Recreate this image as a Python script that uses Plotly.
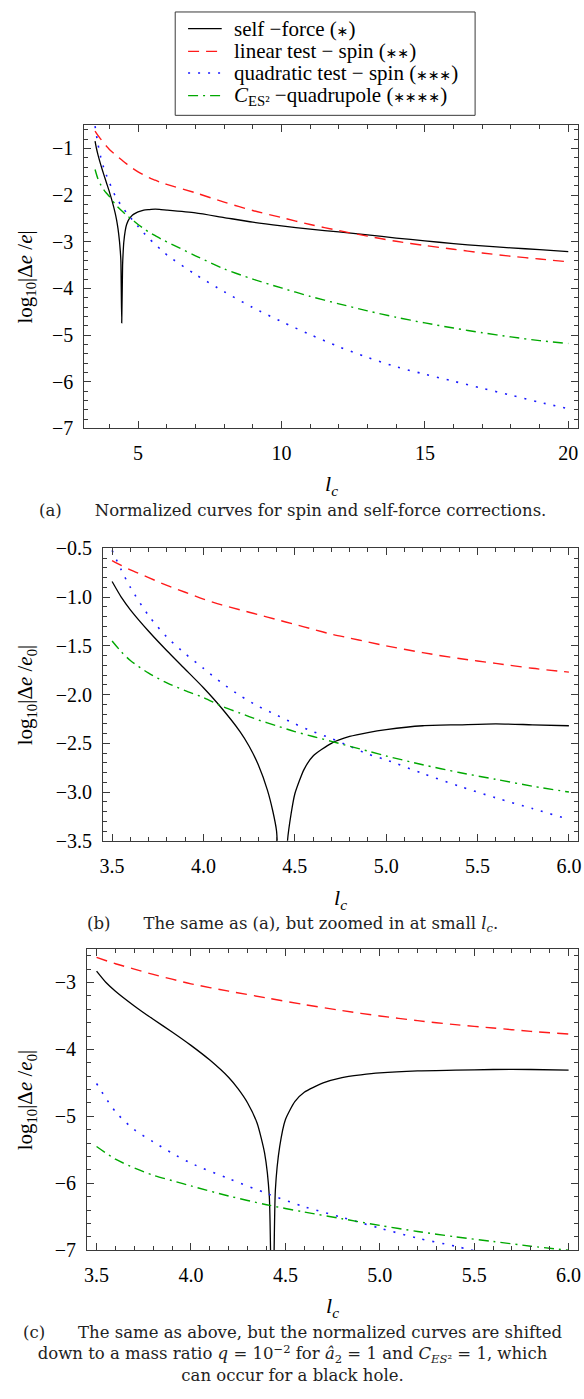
import plotly.graph_objects as go

# ---------------------------------------------------------------
# Curve data: log10 of the relative energy corrections vs l_c
# ---------------------------------------------------------------

# (a) normalized curves, wide range of l_c
x_a_sf = [3.5, 3.55, 3.6, 3.7, 3.8, 3.9, 4.0, 4.1, 4.2, 4.25, 4.3, 4.35, 4.38, 4.4,
          4.43, 4.46, 4.48, 4.5, 4.55, 4.6, 4.7, 4.8, 4.9, 5.0, 5.2, 5.4, 5.6, 5.8,
          6.0, 7, 8, 9, 10, 11, 12, 13, 14, 15, 16, 17, 18, 19, 20]
y_a_sf = [-0.84, -1.00, -1.13, -1.35, -1.55, -1.74, -1.93, -2.14, -2.38, -2.53, -2.72,
          -2.98, -3.20, -3.40, -4.74, -3.50, -3.22, -3.02, -2.77, -2.63, -2.50, -2.43,
          -2.39, -2.36, -2.32, -2.31, -2.30, -2.31, -2.32, -2.38, -2.48, -2.58, -2.66,
          -2.73, -2.79, -2.85, -2.92, -2.98, -3.04, -3.09, -3.13, -3.17, -3.21]

x_a = [3.5, 3.6, 3.7, 3.8, 3.9, 4.0, 4.2, 4.4, 4.6, 4.8, 5.0, 5.2, 5.4, 5.6, 5.8, 6.0,
       7, 8, 9, 10, 11, 12, 13, 14, 15, 16, 17, 18, 19, 20]
y_a_lin = [-0.625, -0.72, -0.80, -0.88, -0.95, -1.02, -1.13, -1.23, -1.33, -1.42, -1.50,
           -1.57, -1.63, -1.68, -1.73, -1.77, -1.95, -2.15, -2.33, -2.48, -2.63, -2.76,
           -2.88, -2.99, -3.08, -3.16, -3.24, -3.31, -3.37, -3.43]
y_a_quad = [-0.52, -0.90, -1.19, -1.41, -1.58, -1.73, -2.01, -2.21, -2.38, -2.53, -2.67,
            -2.81, -2.94, -3.06, -3.17, -3.28, -3.70, -4.07, -4.41, -4.71, -4.99, -5.25,
            -5.48, -5.68, -5.84, -5.99, -6.14, -6.29, -6.44, -6.58]
y_a_ces = [-1.45, -1.65, -1.78, -1.88, -1.96, -2.03, -2.19, -2.32, -2.43, -2.53, -2.63,
           -2.72, -2.80, -2.87, -2.94, -3.00, -3.30, -3.58, -3.80, -3.99, -4.17, -4.33,
           -4.48, -4.62, -4.74, -4.85, -4.95, -5.04, -5.12, -5.18]

# (b) same curves, zoomed in at small l_c
x_b_sf = [3.5, 3.55, 3.6, 3.7, 3.8, 3.9, 4.0, 4.1, 4.2, 4.25, 4.3, 4.35, 4.38, 4.4,
          4.435, 4.46, 4.48, 4.5, 4.55, 4.6, 4.7, 4.8, 4.9, 5.0, 5.2, 5.4, 5.6, 5.8, 6.0]
y_b_sf = [-0.84, -1.00, -1.13, -1.35, -1.55, -1.74, -1.93, -2.14, -2.38, -2.53, -2.72,
          -2.98, -3.20, -3.40, -5.00, -3.50, -3.22, -3.02, -2.77, -2.63, -2.50, -2.43,
          -2.39, -2.36, -2.32, -2.31, -2.30, -2.31, -2.32]

x_b = [3.5, 3.55, 3.6, 3.7, 3.8, 3.9, 4.0, 4.1, 4.2, 4.3, 4.4, 4.5, 4.6, 4.7, 4.8, 4.9,
       5.0, 5.2, 5.4, 5.6, 5.8, 6.0]
y_b_lin = [-0.625, -0.675, -0.72, -0.80, -0.88, -0.95, -1.02, -1.08, -1.13, -1.18, -1.23,
           -1.28, -1.33, -1.38, -1.42, -1.46, -1.50, -1.57, -1.63, -1.68, -1.73, -1.77]
y_b_quad = [-0.52, -0.72, -0.90, -1.19, -1.41, -1.58, -1.73, -1.88, -2.01, -2.12, -2.21,
            -2.30, -2.38, -2.45, -2.53, -2.61, -2.67, -2.81, -2.94, -3.06, -3.17, -3.28]
y_b_ces = [-1.45, -1.56, -1.65, -1.78, -1.88, -1.96, -2.03, -2.12, -2.19, -2.26, -2.32,
           -2.38, -2.43, -2.48, -2.53, -2.58, -2.63, -2.72, -2.80, -2.87, -2.94, -3.00]

# (c) shifted down to mass ratio q = 1e-2
x_c_sf = [3.5, 3.55, 3.6, 3.7, 3.8, 3.9, 4.0, 4.1, 4.2, 4.25, 4.3, 4.35, 4.39, 4.415,
          4.431, 4.447, 4.47, 4.5, 4.55, 4.6, 4.7, 4.8, 4.9, 5.0, 5.2, 5.4, 5.6, 5.8, 6.0]
y_c_sf = [-2.83, -3.00, -3.13, -3.35, -3.55, -3.74, -3.94, -4.16, -4.42, -4.59, -4.80,
          -5.10, -5.55, -6.20, -9.00, -6.10, -5.45, -5.05, -4.78, -4.64, -4.50, -4.42,
          -4.38, -4.35, -4.32, -4.31, -4.30, -4.30, -4.31]

x_c = [3.5, 3.6, 3.7, 3.8, 3.9, 4.0, 4.2, 4.4, 4.6, 4.8, 5.0, 5.2, 5.4, 5.6, 5.8, 6.0]
y_c_lin = [-2.625, -2.72, -2.80, -2.88, -2.95, -3.02, -3.13, -3.23, -3.33, -3.42, -3.50,
           -3.57, -3.63, -3.68, -3.73, -3.77]
y_c_ces = [-5.45, -5.64, -5.77, -5.88, -5.96, -6.04, -6.19, -6.32, -6.43, -6.53, -6.63,
           -6.72, -6.80, -6.87, -6.94, -7.00]
x_c_quad = [3.5, 3.6, 3.7, 3.8, 3.9, 4.0, 4.2, 4.4, 4.6, 4.8, 5.0, 5.2, 5.4, 5.5]
y_c_quad = [-4.51, -4.93, -5.20, -5.38, -5.55, -5.70, -5.93, -6.15, -6.35, -6.51, -6.67,
            -6.82, -6.94, -7.01]

AST = "<span style='font-family:DejaVu Sans;font-size:14px'>\u2217</span>"
series_names = ["self \u2212force (" + AST + ")",
                "linear test \u2212 spin (" + AST * 2 + ")",
                "quadratic test \u2212 spin (" + AST * 3 + ")",
                "<i>C</i><sub>ES\u00b2</sub> \u2212quadrupole (" + AST * 4 + ")"]

# ---------------------------------------------------------------
# Styling
# ---------------------------------------------------------------
W, H = 584, 1399
SERIF = "Liberation Serif"
CAPTION_FONT = "DejaVu Serif"
FRAME = "#3a3a3a"
TICK_FONT = dict(family=SERIF, size=20, color="black")

styles = [
    dict(color="black", width=1.3, dash="solid"),
    dict(color="#ff1a1a", width=1.4, dash="11px,7px"),
    dict(color="#1a1aff", width=1.6, dash="2px,8px"),
    dict(color="#00a800", width=1.4, dash="10px,5px,2px,5px"),
]


def px_x(p):
    return p / W


def px_y(p):
    return 1 - p / H


# plot-area rectangles in pixels: (left, right, top, bottom)
panels = {
    "a": (82, 581, 116, 424),
    "b": (101, 581, 546, 843),
    "c": (85, 581, 953, 1259),
}

fig = go.Figure()

panel_data = [
    ("x", "y", [(x_a_sf, y_a_sf), (x_a, y_a_lin), (x_a, y_a_quad), (x_a, y_a_ces)]),
    ("x2", "y2", [(x_b_sf, y_b_sf), (x_b, y_b_lin), (x_b, y_b_quad), (x_b, y_b_ces)]),
    ("x3", "y3", [(x_c_sf, y_c_sf), (x_c, y_c_lin), (x_c_quad, y_c_quad), (x_c, y_c_ces)]),
]

for xa, ya, curves in panel_data:
    for i, (xs, ys) in enumerate(curves):
        fig.add_trace(go.Scatter(
            x=xs, y=ys, mode="lines", name=series_names[i], showlegend=False,
            line=dict(color=styles[i]["color"], width=styles[i]["width"],
                      dash=styles[i]["dash"], shape="spline",
                      smoothing=0.6 if i == 0 else 0.8),
            xaxis=xa, yaxis=ya, hoverinfo="skip"))


def axis(rect, horizontal, rng, dtick, minor_dtick, anchor, fmt=None):
    left, right, top, bottom = rect
    dom = [px_x(left), px_x(right)] if horizontal else [px_y(bottom), px_y(top)]
    d = dict(
        domain=dom, range=rng, anchor=anchor,
        showline=True, linecolor=FRAME, linewidth=1, mirror="allticks",
        ticks="inside", ticklen=7, tickwidth=1, tickcolor=FRAME,
        showgrid=False, zeroline=False,
        tickmode="linear", tick0=0, dtick=dtick,
        ticklabelstandoff=7 if horizontal else 6,
        minor=dict(ticks="inside", ticklen=4, tickcolor=FRAME,
                   tick0=0, dtick=minor_dtick, showgrid=False),
    )
    if fmt:
        d["tickformat"] = fmt
    return d


pa, pb, pc = panels["a"], panels["b"], panels["c"]

fig.update_layout(
    width=W, height=H,
    margin=dict(l=0, r=0, t=0, b=0),
    paper_bgcolor="white", plot_bgcolor="white",
    font=dict(family=SERIF, size=20, color="black"),
    showlegend=False,
    xaxis=axis(pa, True, [3.12, 20.34], 5, 1, "y"),
    yaxis=axis(pa, False, [-7, -0.5], 1, 0.2, "x"),
    xaxis2=axis(pb, True, [3.45, 6.05], 0.5, 0.1, "y2", ".1f"),
    yaxis2=axis(pb, False, [-3.5, -0.5], 0.5, 0.1, "x2", ".1f"),
    xaxis3=axis(pc, True, [3.45, 6.05], 0.5, 0.1, "y3", ".1f"),
    yaxis3=axis(pc, False, [-7, -2.5], 1, 0.2, "x3"),
)
fig.update_xaxes(tickfont=TICK_FONT)
fig.update_yaxes(tickfont=TICK_FONT)

shapes = []
annotations = []

# legend box with line samples and labels
LEG_L, LEG_R, LEG_T, LEG_B = 174, 477, 1, 106
legend_rows = [18, 41, 63, 86]
shapes.append(dict(type="rect", xref="paper", yref="paper",
                   x0=px_x(LEG_L), x1=px_x(LEG_R), y0=px_y(LEG_B), y1=px_y(LEG_T),
                   line=dict(color=FRAME, width=1), fillcolor="white", layer="above"))
for i, row in enumerate(legend_rows):
    shapes.append(dict(type="line", xref="paper", yref="paper",
                       x0=px_x(187), x1=px_x(221), y0=px_y(row), y1=px_y(row),
                       line=dict(color=styles[i]["color"], width=styles[i]["width"],
                                 dash=styles[i]["dash"]), layer="above"))
    annotations.append(dict(
        text=series_names[i], x=px_x(231), y=px_y(row), xref="paper", yref="paper",
        xanchor="left", yanchor="middle", showarrow=False,
        font=dict(family=SERIF, size=21, color="black")))

# y-axis titles
ylabels = [
    ("log<sub>10</sub>|\u0394<i>e</i> /<i>e</i>|", pa),
    ("log<sub>10</sub>|\u0394<i>e</i> /<i>e</i><sub>0</sub>|", pb),
    ("log<sub>10</sub>|\u0394<i>e</i> /<i>e</i><sub>0</sub>|", pc),
]
for txt, rect in ylabels:
    annotations.append(dict(
        text=txt, x=px_x(23), y=px_y((rect[2] + rect[3]) / 2), xref="paper", yref="paper",
        xanchor="center", yanchor="middle", textangle=-90, showarrow=False,
        font=dict(family=SERIF, size=21, color="black")))

# x-axis titles
for rect, ypix in [(pa, 482), (pb, 902), (pc, 1317)]:
    annotations.append(dict(
        text="<i>l<sub>c</sub></i>", x=px_x((rect[0] + rect[1]) / 2), y=px_y(ypix),
        xref="paper", yref="paper", xanchor="center", yanchor="middle",
        showarrow=False, font=dict(family=SERIF, size=22, color="black")))

# sub-figure captions
captions = [
    ("(a)\u2003\u2003Normalized curves for spin and self-force corrections.", 507),
    ("(b)\u2003\u2003The same as (a), but zoomed in at small <i>l<sub>c</sub></i>.", 928),
    ("(c)\u2003\u2003The same as above, but the normalized curves are shifted<br>"
     "down to a mass ratio <i>q</i> = 10<sup>\u22122</sup> for <i>\u00e2</i><sub>2</sub> = 1 "
     "and <i>C</i><sub><i>ES</i>\u00b2</sub> = 1, which<br>can occur for a black hole.", 1364),
]
for txt, ypix in captions:
    annotations.append(dict(
        text=txt, x=0.5, y=px_y(ypix), xref="paper", yref="paper",
        xanchor="center", yanchor="middle", align="center", showarrow=False,
        font=dict(family=CAPTION_FONT, size=16.5, color="#222")))

fig.update_layout(shapes=shapes, annotations=annotations)

fig.write_html("out.html",
               post_script="document.body.style.margin='0';document.body.style.padding='0';")
